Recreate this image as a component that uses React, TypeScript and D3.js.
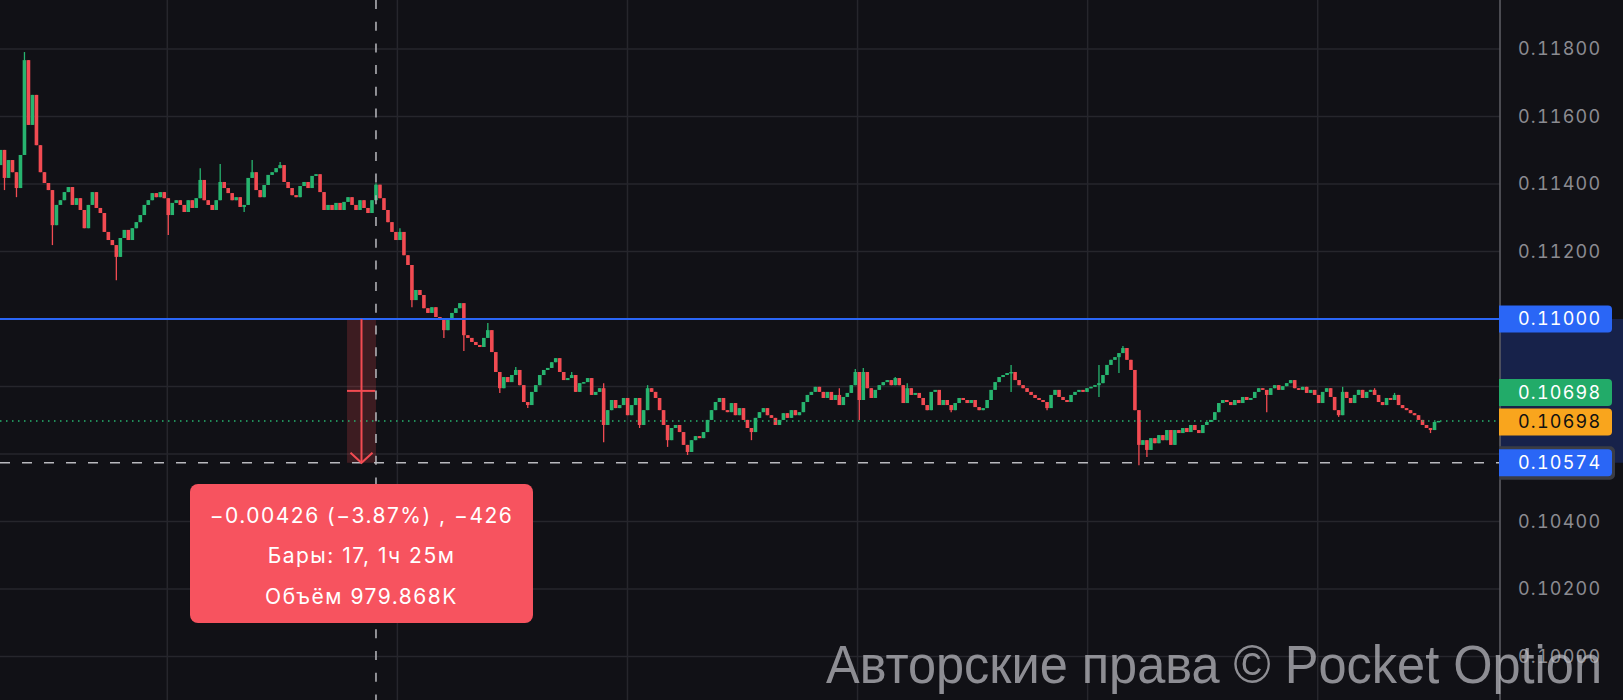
import React, { useMemo } from 'react';
import * as d3 from 'd3';

// Close prices in 1e-5 units (one value per candle); each candle opens at the previous close.
const FIRST_OPEN = 11456;
const CLOSES: number[] = [
  11501, 11418, 11471, 11435, 11388, 11486, 11767, 11575, 11664, 11515,
  11435, 11403, 11382, 11278, 11338, 11352, 11376, 11391, 11338, 11358,
  11323, 11269, 11338, 11376, 11329, 11314, 11258, 11234, 11219, 11184,
  11240, 11264, 11234, 11269, 11287, 11308, 11338, 11352, 11373, 11361,
  11376, 11358, 11308, 11344, 11352, 11338, 11317, 11352, 11329, 11358,
  11412, 11352, 11338, 11323, 11352, 11406, 11388, 11373, 11352, 11361,
  11332, 11338, 11418, 11435, 11382, 11361, 11397, 11427, 11435, 11447,
  11456, 11406, 11388, 11367, 11361, 11394, 11406, 11388, 11424, 11429,
  11376, 11323, 11338, 11323, 11344, 11323, 11347, 11361, 11338, 11323,
  11352, 11329, 11314, 11352, 11398, 11358, 11323, 11287, 11258, 11234,
  11258, 11189, 11160, 11056, 11086, 11071, 11032, 11018, 11035, 11006,
  10997, 10967, 10997, 11018, 11032, 11047, 10952, 10944, 10932, 10923,
  10917, 10944, 10967, 10902, 10843, 10795, 10828, 10813, 10834, 10849,
  10804, 10754, 10745, 10784, 10804, 10834, 10849, 10855, 10872, 10884,
  10843, 10819, 10825, 10834, 10784, 10810, 10813, 10825, 10775, 10784,
  10795, 10686, 10730, 10760, 10736, 10745, 10766, 10715, 10745, 10766,
  10686, 10730, 10795, 10784, 10766, 10730, 10686, 10641, 10677, 10686,
  10665, 10627, 10606, 10641, 10653, 10647, 10665, 10701, 10730, 10754,
  10766, 10730, 10724, 10751, 10715, 10736, 10701, 10677, 10665, 10707,
  10724, 10736, 10715, 10707, 10686, 10701, 10721, 10707, 10730, 10715,
  10724, 10754, 10775, 10784, 10799, 10784, 10766, 10784, 10760, 10775,
  10745, 10769, 10781, 10804, 10843, 10760, 10843, 10795, 10766, 10790,
  10804, 10813, 10819, 10804, 10825, 10804, 10751, 10795, 10775, 10781,
  10766, 10745, 10730, 10784, 10790, 10745, 10760, 10745, 10730, 10751,
  10766, 10760, 10751, 10760, 10739, 10730, 10736, 10760, 10790, 10813,
  10828, 10834, 10840, 10843, 10819, 10804, 10795, 10784, 10775, 10766,
  10760, 10754, 10736, 10775, 10790, 10769, 10760, 10754, 10775, 10784,
  10790, 10784, 10795, 10799, 10804, 10810, 10834, 10864, 10879, 10887,
  10899, 10914, 10879, 10849, 10730, 10627, 10641, 10612, 10647, 10632,
  10656, 10641, 10671, 10627, 10671, 10662, 10677, 10665, 10686, 10671,
  10662, 10686, 10695, 10701, 10724, 10751, 10760, 10754, 10745, 10760,
  10751, 10769, 10760, 10766, 10784, 10795, 10790, 10775, 10795, 10804,
  10790, 10801, 10810, 10819, 10795, 10790, 10799, 10781, 10790, 10775,
  10751, 10784, 10795, 10769, 10730, 10715, 10784, 10766, 10751, 10775,
  10790, 10766, 10784, 10790, 10775, 10754, 10745, 10766, 10760, 10775,
  10745, 10736, 10730, 10721, 10715, 10701, 10686, 10677, 10671, 10695, 10698,
];

// Wicks that reach beyond the candle body: [candle index, price in 1e-5 units].
const HIGH_WICKS: [number, number][] = [
  [6, 11791], [50, 11447], [55, 11459], [63, 11471], [70, 11465], [94, 11402],
  [100, 11269], [122, 10988], [129, 10858], [143, 10843], [151, 10810], [162, 10804],
  [210, 10795], [214, 10852], [216, 10855], [224, 10828], [227, 10810], [253, 10864],
  [275, 10864], [281, 10920], [336, 10799], [344, 10795], [349, 10781],
];
const LOW_WICKS: [number, number][] = [
  [1, 11382], [4, 11361], [13, 11219], [29, 11115], [42, 11249], [61, 11317],
  [103, 11035], [111, 10944], [116, 10905], [125, 10781], [132, 10736], [151, 10635],
  [160, 10677], [167, 10621], [172, 10597], [188, 10641], [215, 10701], [238, 10724],
  [253, 10784], [262, 10730], [275, 10769], [280, 10840], [285, 10567], [287, 10591],
  [317, 10724], [335, 10710], [358, 10662],
];

const PRICE_TICKS = [0.118, 0.116, 0.114, 0.112, 0.11, 0.108, 0.106, 0.104, 0.102, 0.1];
const LEVEL_PRICE = 0.11;
const LAST_PRICE = 0.10698;
const CROSS_PRICE = 0.10574;
const MEASURE_FROM = 87;
const CROSS_BAR = 94;
const MEASURE_LINES = ['\u22120.00426 (\u22123.87%) , \u2212426', 'Бары: 17, 1ч 25м', 'Объём 979.868K'];
const WATERMARK = 'Авторские права © Pocket Option';

const START = new Date(2024, 0, 15, 3, 18);
const BAR_MS = 12.5 * 60 * 1000;

const W = 1623;
const H = 700;
const AXIS_X = 1500;

const BG = '#111116';
const GRID = '#26262c';
const UP = '#27b46f';
const DOWN = '#f24b52';
const BLUE = '#2a66f6';
const FONT = 'Inter, "Noto Sans", sans-serif';

export default function App() {
  const bars = useMemo(() => {
    const hi = new Map(HIGH_WICKS);
    const lo = new Map(LOW_WICKS);
    return CLOSES.map((c, i) => {
      const o = i === 0 ? FIRST_OPEN : CLOSES[i - 1];
      return {
        t: new Date(START.getTime() + i * BAR_MS),
        open: o / 1e5,
        close: c / 1e5,
        high: (hi.get(i) ?? Math.max(o, c)) / 1e5,
        low: (lo.get(i) ?? Math.min(o, c)) / 1e5,
      };
    });
  }, []);

  const x = d3.scaleTime().domain([bars[0].t, bars[bars.length - 1].t]).range([0.5, 1438.5]);
  const y = d3.scaleLinear().domain([LEVEL_PRICE, 0.118]).range([319, 49]);
  const fmt = d3.format('.5f');
  const timeTicks = x.ticks(d3.timeHour.every(12) as any);

  const yLevel = y(LEVEL_PRICE);
  const yLast = y(LAST_PRICE);
  const yCross = y(CROSS_PRICE);
  const xCross = x(bars[CROSS_BAR].t);
  const xMeasure = x(bars[MEASURE_FROM].t) - 1;
  const mCenter = (xMeasure + xCross) / 2;
  const yMid = (yLevel + yCross) / 2;

  const markerYs = [yLevel, yLast - 28.5, yLast, yCross];
  const visibleTicks = PRICE_TICKS.filter((p) => markerYs.every((m) => Math.abs(y(p) - m) > 16));

  const bodyW = 3.6;

  const labelBox = (cy: number, fill: string, text: string, color: string, key: string) => (
    <g key={key}>
      <path
        d={`M${AXIS_X - 1},${cy - 13.5} H${1608} a4,4 0 0 1 4,4 V${cy + 9.5} a4,4 0 0 1 -4,4 H${AXIS_X - 1} Z`}
        fill={fill}
      />
      <text x={1518} y={cy} dy="0.36em" fill={color} fontSize={18} fontFamily={FONT}
        style={{ fontVariantNumeric: 'tabular-nums', letterSpacing: '1.2px' }}>
        {text}
      </text>
    </g>
  );

  return (
    <svg width={W} height={H} style={{ position: 'fixed', left: 0, top: 0, background: BG, display: 'block' }}>
      <rect x={0} y={0} width={W} height={H} fill={BG} />

      {/* grid */}
      <g>
        {timeTicks.map((t, i) => (
          <line key={'v' + i} x1={x(t)} x2={x(t)} y1={0} y2={H} stroke={GRID} strokeWidth={1.5} />
        ))}
        {PRICE_TICKS.map((p, i) => (
          <line key={'h' + i} x1={0} x2={AXIS_X} y1={y(p)} y2={y(p)} stroke={GRID} strokeWidth={1.5} />
        ))}
      </g>

      {/* measured range highlight */}
      <rect x={xMeasure} y={yLevel} width={xCross - xMeasure} height={yCross - yLevel} fill="rgba(242,75,82,0.2)" />

      {/* candles */}
      <g>
        {bars.map((b, i) => {
          const cx = x(b.t);
          const up = b.close >= b.open;
          const col = up ? UP : DOWN;
          const top = y(Math.max(b.open, b.close));
          const bot = y(Math.min(b.open, b.close));
          return (
            <g key={i}>
              <line x1={cx} x2={cx} y1={y(b.high)} y2={y(b.low)} stroke={col} strokeWidth={1.3} />
              <rect x={cx - bodyW / 2} y={top} width={bodyW} height={Math.max(1.5, bot - top)} fill={col} />
            </g>
          );
        })}
      </g>

      {/* horizontal level */}
      <line x1={0} x2={AXIS_X} y1={yLevel} y2={yLevel} stroke={BLUE} strokeWidth={2} />

      {/* last price */}
      <line x1={0} x2={AXIS_X} y1={yLast} y2={yLast} stroke={UP} strokeWidth={1.5} strokeDasharray="1.5 4.5" />

      {/* crosshair */}
      <line x1={0} x2={AXIS_X} y1={yCross} y2={yCross} stroke="#b9b9be" strokeWidth={1.5} strokeDasharray="10 12" />
      <line x1={xCross} x2={xCross} y1={0} y2={H} stroke="#b9b9be" strokeWidth={1.5} strokeDasharray="9 12.7" />

      {/* measure arrow */}
      <g stroke={DOWN} strokeWidth={2} fill="none">
        <line x1={mCenter} x2={mCenter} y1={yLevel} y2={yCross} />
        <line x1={xMeasure} x2={xCross - 1} y1={yMid} y2={yMid} />
        <path d={`M${mCenter - 11},${yCross - 10} L${mCenter},${yCross} L${mCenter + 11},${yCross - 10}`} />
      </g>

      {/* measure tooltip */}
      <g>
        <rect x={mCenter - 171.5} y={484} width={343} height={139} rx={8} fill="#f7535f" />
        {MEASURE_LINES.map((s, i) => (
          <text key={i} x={mCenter} y={515 + i * 40.5} dy="0.36em" textAnchor="middle" fill="#fff"
            fontSize={21} fontFamily={FONT} style={{ letterSpacing: '1.5px' }}>
            {s}
          </text>
        ))}
      </g>

      {/* price axis */}
      <rect x={AXIS_X} y={0} width={W - AXIS_X} height={H} fill={BG} />
      <rect x={AXIS_X} y={yLevel} width={W - AXIS_X} height={yCross - yLevel} fill="#17224a" />
      <line x1={AXIS_X} x2={AXIS_X} y1={0} y2={H} stroke="#5f5f66" strokeWidth={1.5} />
      {visibleTicks.map((p, i) => (
        <text key={i} x={1518} y={y(p)} dy="0.36em" fill="#8b8b91" fontSize={18} fontFamily={FONT}
          style={{ fontVariantNumeric: 'tabular-nums', letterSpacing: '1.2px' }}>
          {fmt(p)}
        </text>
      ))}
      {labelBox(yLevel, BLUE, fmt(LEVEL_PRICE), '#fff', 'lvl')}
      {labelBox(yLast - 28.5, '#22ab69', fmt(LAST_PRICE), '#fff', 'last')}
      {labelBox(yLast + 1, '#f9a51d', fmt(LAST_PRICE), '#111', 'cur')}
      <path
        d={`M${AXIS_X - 1},${yCross - 16.5} H${1610} a5,5 0 0 1 5,5 V${yCross + 12} a5,5 0 0 1 -5,5 H${AXIS_X - 1} Z`}
        fill="#3a3c44"
      />
      {labelBox(yCross, BLUE, fmt(CROSS_PRICE), '#fff', 'cross')}

      {/* watermark */}
      <text x={826} y={683} fill="rgba(190,190,195,0.72)" fontSize={53} textLength={776}
        lengthAdjust="spacingAndGlyphs" fontFamily='"Liberation Sans", Arial, sans-serif'>
        {WATERMARK}
      </text>
    </svg>
  );
}
